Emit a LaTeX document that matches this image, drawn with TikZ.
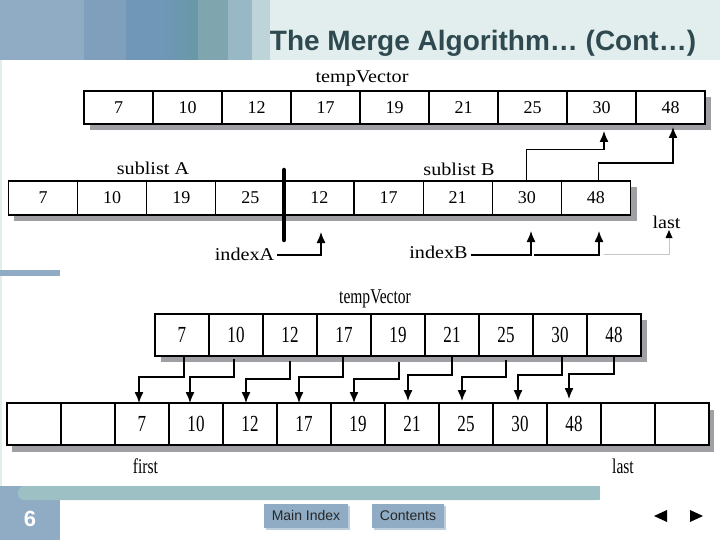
\documentclass[tikz,border=0pt]{standalone}
\usepackage{fontspec}
\setmainfont{Liberation Serif}
\newfontfamily\titlefont{Liberation Sans}
\newfontfamily\narrowfont[FakeStretch=0.74]{Liberation Serif}
\newfontfamily\widefont[FakeStretch=1.12]{Liberation Serif}
\usetikzlibrary{arrows.meta, calc, positioning}
\definecolor{slate}{HTML}{8FACC4}
\definecolor{bandA}{HTML}{7F9FBC}
\definecolor{bandB}{HTML}{7097B8}
\definecolor{bandC}{HTML}{6898A4}
\definecolor{bandD}{HTML}{7FA6AE}
\definecolor{bandE}{HTML}{98B8C6}
\definecolor{bandF}{HTML}{BDD5D8}
\definecolor{stripe}{HTML}{9CC0C4}
\definecolor{pale}{HTML}{E2EEEE}
\definecolor{ink}{HTML}{2E4A50}
\definecolor{backing}{HTML}{A0A0A4}
\begin{document}
\begin{tikzpicture}[>={Latex[length=11pt,width=9pt]}, x=1pt, y=-1pt,
    wide/.style={draw, fill=white, line width=1.2pt, inner sep=0pt, outer sep=0pt, minimum width=69pt, minimum height=33pt, font=\fontsize{18}{20}\selectfont},
    slim/.style={draw, fill=white, line width=1.2pt, inner sep=0pt, outer sep=0pt, minimum width=54pt, minimum height=42pt, font=\narrowfont\fontsize{23}{25}\selectfont},
    tag/.style={inner sep=0pt, font=\widefont\fontsize{18}{20}\selectfont},
    slimtag/.style={inner sep=0pt, font=\narrowfont\fontsize{21}{23}\selectfont},
    button/.style={fill=slate, inner sep=0pt, minimum height=24pt, text height=9pt, text depth=1pt, font=\titlefont\fontsize{14}{16}\selectfont, text=black!85},
    arr/.style={->, line width=1.3pt}]
\useasboundingbox (0,0) rectangle (720,540);

% slide frame
\fill[pale] (270,0) rectangle (720,60);
\fill[slate] (0,0) rectangle (84,60);
\fill[bandA] (84,0) rectangle (126,60);
\fill[bandB] (126,0) rectangle (160,60);
\shade[left color=bandB, right color=bandC] (160,0) rectangle (198,60);
\fill[bandD] (198,0) rectangle (228,60);
\fill[bandE] (228,0) rectangle (252,60);
\fill[bandF] (252,0) rectangle (270,60);
\fill[pale] (0,60) rectangle (1.5,486);
\fill[slate] (0,270) rectangle (60,276);
\fill[slate] (0,486) rectangle (60,540);
\fill[stripe, rounded corners=6pt] (18,486) rectangle (600,500);
\fill[stripe] (60,486) rectangle (600,500);
\fill[slate!60] (266,506) rectangle (350,530);
\fill[slate!60] (374,506) rectangle (446,530);
\node[inner sep=0pt, text=ink, font=\titlefont\bfseries\fontsize{28}{30}\selectfont] (title) at (483,43) {The Merge Algorithm… (Cont…)};
\node[inner sep=0pt, text=white, font=\titlefont\bfseries\fontsize{22}{24}\selectfont] (page) at (30,519) {6};
\node[button, minimum width=84pt] (mainindex) at (306,516) {Main Index};
\node[button, minimum width=72pt] (contents) at (408,516) {Contents};
\fill (667,510) -- (667,522) -- (654,516) -- cycle;
\fill (690,510) -- (690,522) -- (703,516) -- cycle;

% merged vector and sublists
\fill[backing] (90,97) rectangle (711,130);
\fill[backing] (14,187) rectangle (636.5,221);
\foreach \val [count=\i] in {7,10,12,17,19,21,25,30,48}
  \node[wide] (t\i) at ({84+69*(\i-0.5)},107.5) {\val};
\foreach \val [count=\i] in {7,10,19,25,12,17,21,30,48}
  \node[wide, minimum width=69.1pt, minimum height=34pt] (s\i) at ({8.5+69.1*(\i-0.5)},198) {\val};
\node[tag] (tempa) at (362,79) {tempVector};
\node[tag] (sublista) at (153,168) {sublist A};
\node[tag] (sublistb) at (459,169) {sublist B};
\node[tag] (indexa) at (244.5,254) {indexA};
\node[tag] (indexb) at (438.5,252) {indexB};
\node[tag] (lasta) at (666.5,222) {last};
\coordinate (divtop) at (284,170);
\coordinate (divbot) at (284,240);
\draw[line width=4.5pt, line cap=round] (divtop) -- (divbot);
\coordinate (ia) at (321,232);
\coordinate (ib) at (531,231);
\coordinate (ic) at (599,231);
\coordinate (id) at (669,230);
\coordinate (ja) at (534,255);
\coordinate (jb) at (604,254);
\draw[arr] (s8.north) -- ++(0,-31.5) -| ([xshift=2.5pt,yshift=-7pt]t8.south);
\draw[arr] ([xshift=2.5pt]s9.north) -- ++(0,-18) -| ([xshift=2.5pt,yshift=-3pt]t9.south);
\draw[arr] (indexa.east) ++(3,1) -| (ia);
\draw[arr] (indexb.east) ++(3,3) -| (ib);
\draw[arr] (ja) -| (ic);
\draw[gray!45, line width=0.7pt] (jb) -| ([yshift=-6pt]id);
\fill (id) -- ++(3.5,8) -- ++(-7,0) -- cycle;

% second copy with first and last
\fill[backing] (161,320) rectangle (647,362);
\fill[backing] (12,410) rectangle (714,452);
\foreach \val [count=\i] in {7,10,12,17,19,21,25,30,48}
  \node[slim] (v\i) at ({155+54*(\i-0.5)},335) {\val};
\foreach \val [count=\i] in {{},{},7,10,12,17,19,21,25,30,48,{},{}}
  \node[slim] (w\i) at ({7+54*(\i-0.5)},424) {\val};
\node[slimtag] (tempb) at (375,299) {tempVector};
\node[slimtag] (firstb) at (145.5,466) {first};
\node[slimtag] (lastb) at (623,466) {last};
\foreach \i/\a/\s/\m/\j/\b/\t in {1/2/0/21/3/-3/0,2/-2/3/18/4/-6/0,3/0/5/18/5/-4/0,4/-1/0/21/6/-5/0,
    5/1/6/17/7/-4/0,6/0/0/19/8/-4/2,7/0/4/17/9/-4/2,8/2/0/19/10/-2/2,9/0/0/18/11/-5/4}
  \draw[arr] ([xshift=\a pt,yshift=-\s pt]v\i.south) -- ++(0,\m) -| ([xshift=\b pt,yshift=\t pt]w\j.north);
\end{tikzpicture}
\end{document}
